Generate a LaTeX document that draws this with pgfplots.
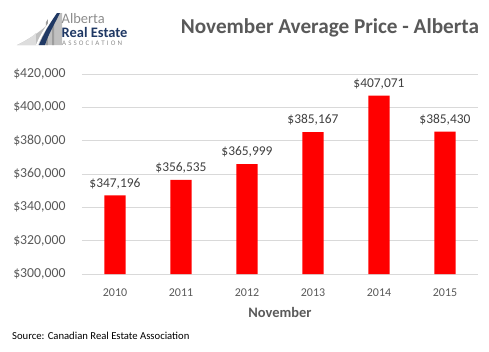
\documentclass[border=0pt]{standalone}
\usepackage{pgfplots}
\pgfplotsset{compat=1.18}
\usepackage{fontspec}
\setmainfont{Carlito}
\definecolor{txtgray}{HTML}{595959}
\definecolor{lblgray}{HTML}{404040}
\definecolor{gridgray}{HTML}{D9D9D9}
\definecolor{navy}{HTML}{1F3864}
\definecolor{logogray}{HTML}{8C8C8C}
\begin{document}
\begin{tikzpicture}[x=1bp,y=1bp]
\useasboundingbox (-82,-77) rectangle (407,274);
\begin{scope}[shift={(-82,274)}]
% logo graphic
\fill[logogray!55] (17,-45) .. controls (32,-38) and (50,-25) .. (58,-13) -- (62,-13) -- (62,-45) -- cycle;
\fill[logogray!30] (17,-45) .. controls (26,-41) and (32,-37) .. (36,-33) -- (36,-45) -- cycle;
\foreach \xx in {46,52}{\fill[logogray!85] (\xx,-45) -- (\xx+2,-45) -- (\xx+2,-19) -- (\xx,-22) -- cycle;}
\fill[white] (36,-45) .. controls (40,-35) and (47,-24) .. (55,-14) -- (56.5,-14) .. controls (49,-24) and (42,-35) .. (38,-45) -- cycle;
\fill[navy] (39,-45) .. controls (43,-35) and (50,-23) .. (57,-13) -- (60,-13) .. controls (54,-25) and (48,-35) .. (45,-45) -- cycle;
\node[anchor=west,inner sep=0,text=logogray,font=\fontsize{14.5}{14}\selectfont] at (61.5,-18.5) {Alberta};
\node[anchor=west,inner sep=0,text=navy,font=\bfseries\fontsize{14.5}{14}\selectfont] at (61.5,-32) {Real Estate};
\node[anchor=west,inner sep=0,text=logogray,font=\fontsize{7}{7}\selectfont] at (62,-43) {A\hspace{2.1bp}S\hspace{2.1bp}S\hspace{2.1bp}O\hspace{2.1bp}C\hspace{2.1bp}I\hspace{2.1bp}A\hspace{2.1bp}T\hspace{2.1bp}I\hspace{2.1bp}O\hspace{2.1bp}N};
% title and source
\node[anchor=center,inner sep=0,text=txtgray,font=\bfseries\fontsize{21.3}{22}\selectfont] at (330,-28) {November Average Price - Alberta};
\node[anchor=west,inner sep=0,font=\fontsize{10.7}{11}\selectfont] at (12,-336) {Source: Canadian Real Estate Association};
\end{scope}
\begin{axis}[
  scale only axis, width=396bp, height=200bp,
  xmin=-0.5, xmax=5.5, ymin=300000, ymax=420000,
  ytick={300000,320000,...,420000},
  xtick=data, xticklabels={2010,2011,2012,2013,2014,2015},
  axis line style={draw=none}, major tick length=0,
  ymajorgrids, grid style={gridgray, line width=0.8pt},
  /pgf/number format/assume math mode=true,
  /pgf/number format/.cd, fixed, precision=0, 1000 sep={,}, /pgfplots/.cd,
  scaled y ticks=false,
  yticklabel={\$\pgfmathprintnumber{\tick}},
  yticklabel style={text=txtgray, font=\fontsize{13.8}{14}\selectfont, xshift=-13bp},
  xticklabel style={text=txtgray, font=\fontsize{12}{12}\selectfont, yshift=-11bp},
  xlabel={November},
  xlabel style={text=txtgray, font=\bfseries\fontsize{14.5}{14}\selectfont, yshift=-4bp},
  nodes near coords={\$\pgfmathprintnumber{\pgfplotspointmeta}},
  nodes near coords style={text=lblgray, font=\fontsize{13.5}{13}\selectfont, yshift=3bp},
  clip=false,
]
\addplot[ybar, bar width=0.32, fill=red, draw=none] coordinates {
(0,347196) (1,356535) (2,365999) (3,385167) (4,407071) (5,385430)};
\end{axis}
\end{tikzpicture}
\end{document}
